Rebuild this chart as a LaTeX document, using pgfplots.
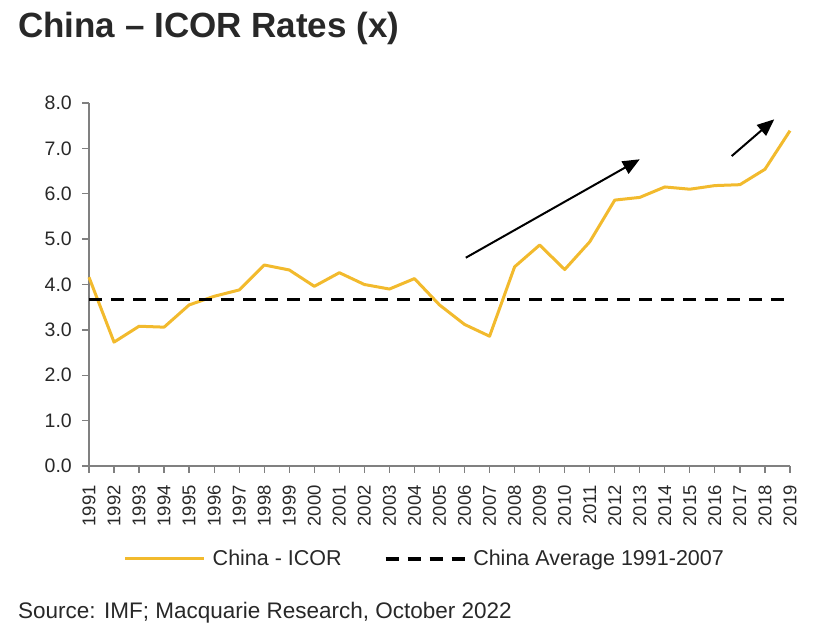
\documentclass[border=0pt]{standalone}
\usepackage{fontspec}
\setmainfont{Liberation Sans}
\usepackage{pgfplots}
\pgfplotsset{compat=1.18}
\usetikzlibrary{arrows.meta}
\definecolor{icor}{RGB}{242,186,45}
\definecolor{axgrey}{RGB}{128,128,128}
\definecolor{txt}{RGB}{40,40,40}
\begin{document}
\begin{tikzpicture}
\useasboundingbox (0pt,0pt) rectangle (823pt,640pt);
\node[anchor=base west, font=\fontsize{35}{38}\selectfont\bfseries, text=txt, inner sep=0] at (18pt,602pt) {China – ICOR Rates (x)};
\node[anchor=base west, font=\fontsize{22.5}{26}\selectfont, text=txt, inner sep=0] at (18pt,21pt) {Source: IMF; Macquarie Research, October 2022};
\begin{axis}[
  at={(89pt,174pt)}, anchor=south west,
  scale only axis, width=701pt, height=363pt,
  xmin=1991, xmax=2019, ymin=0, ymax=8,
  axis x line*=bottom, axis y line*=left,
  axis line style={axgrey, line width=1.5pt},
  every tick/.style={axgrey, line width=1.3pt},
  tick align=outside, major tick length=7pt,
  xtick={1991,...,2019}, ytick={0,1,...,8},
  /pgf/number format/assume math mode=true,
  x tick label style={rotate=90, anchor=east, inner xsep=12pt, font=\fontsize{18.5}{20}\selectfont, text=txt, /pgf/number format/1000 sep={}},
  y tick label style={inner xsep=10pt, font=\fontsize{19.5}{21}\selectfont, text=txt, /pgf/number format/.cd, fixed, fixed zerofill, precision=1},
  clip=false,
  legend columns=2,
  legend image code/.code={\draw[#1] (0pt,0pt) -- (79pt,0pt);},
  legend style={draw=none, fill=none, at={(0.045,-0.256)}, anchor=west,
    font=\fontsize{21.5}{24}\selectfont, text=txt,
    /tikz/every odd column/.append style={column sep=5pt},
    /tikz/every even column/.append style={column sep=40pt}},
]
\addplot[icor, line width=3pt, line join=round] coordinates {
(1991,4.16) (1992,2.73) (1993,3.08) (1994,3.06) (1995,3.55) (1996,3.74)
(1997,3.88) (1998,4.43) (1999,4.32) (2000,3.96) (2001,4.26) (2002,4.00)
(2003,3.90) (2004,4.13) (2005,3.55) (2006,3.12) (2007,2.86) (2008,4.39)
(2009,4.87) (2010,4.33) (2011,4.94) (2012,5.86) (2013,5.92) (2014,6.15)
(2015,6.10) (2016,6.18) (2017,6.20) (2018,6.54) (2019,7.39)};
\addlegendentry{China - ICOR}
\addplot[black, line width=3.5pt, dash pattern=on 13pt off 9pt] coordinates {(1991,3.67) (2019,3.67)};
\addlegendentry{China Average 1991-2007}
\draw[black, line width=2pt, -{Triangle[length=17pt,width=14pt]}] (axis cs:2006.05,4.59) -- (axis cs:2013.0,6.76);
\draw[black, line width=2pt, -{Triangle[length=17pt,width=14pt]}] (axis cs:2016.67,6.83) -- (axis cs:2018.37,7.64);
\end{axis}
\end{tikzpicture}
\end{document}
